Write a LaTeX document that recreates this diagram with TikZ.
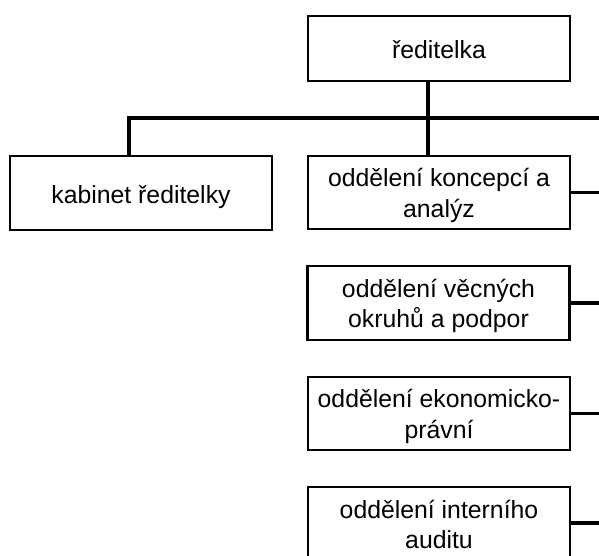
\documentclass[tikz,border=0pt]{standalone}
\usepackage{fontspec}
\setmainfont{Liberation Sans}
\begin{document}
\begin{tikzpicture}[x=1pt,y=1pt,
  box/.style={draw=black, line width=2.5pt, fill=white, minimum width=262pt, inner sep=0pt, align=center, font=\fontsize{24.8}{30.5}\selectfont},
  one/.style={box, text height=22pt, text depth=2pt},
  two/.style={box, text height=52pt, text depth=3pt},
  conn/.style={draw=black, line width=3.8pt}]
\useasboundingbox (0,0) rectangle (599,-556);
\fill[white] (0,0) rectangle (599,-556);
% nodes
\node[one, minimum height=65pt] (dir) at (439,-48.5) {ředitelka};
\node[one, minimum height=74pt] (kab) at (141,-193) {kabinet ředitelky};
\node[two, minimum height=73pt] (konc) at (439,-192.5) {oddělení koncepcí a\\analýz};
\node[two, minimum height=74pt] (vec) at (438.5,-303) {oddělení věcných\\okruhů a podpor};
\node[two, minimum height=73pt] (eko) at (439,-413.5) {oddělení ekonomicko-\\právní};
\node[two, minimum height=74pt] (aud) at (439,-524) {oddělení interního\\auditu};
% coordinates for connectors
\coordinate (barL) at (129,-118);
\coordinate (barR) at (610,-118);
\coordinate (eK) at (610,-192.5);
\coordinate (eV) at (610,-303);
\coordinate (eE) at (610,-413.5);
\coordinate (eA) at (610,-523);
% connectors
\draw[conn] ([xshift=-11pt]dir.south) -- ([xshift=-11pt]konc.north);
\draw[conn] (barL) -- (barR);
\draw[conn] ([yshift=1.7pt]barL) -- (barL |- kab.north);
\draw[conn] (konc.east) -- (eK);
\draw[conn] (vec.east) -- (eV);
\draw[conn] (eko.east) -- (eE);
\draw[conn] (aud.east |- eA) -- (eA);
\end{tikzpicture}
\end{document}
